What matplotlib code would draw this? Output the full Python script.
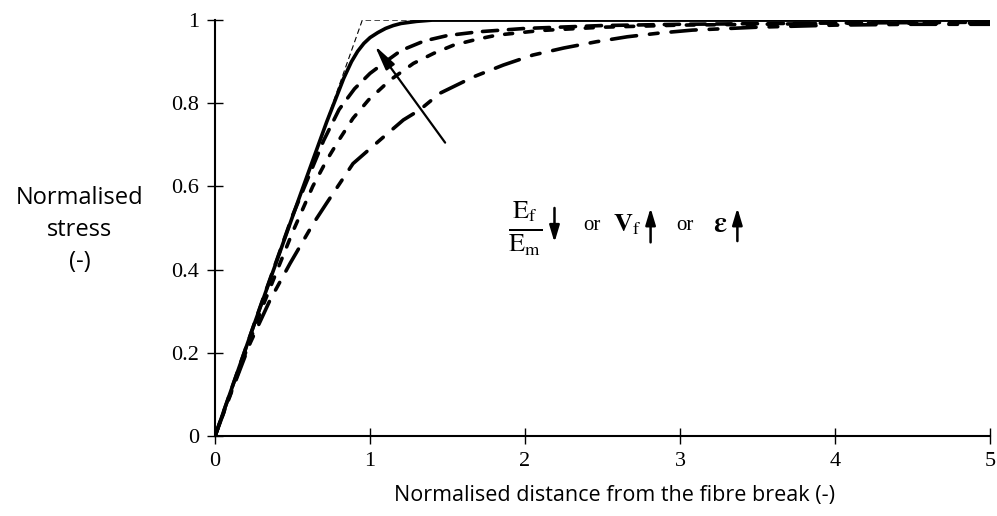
import matplotlib
matplotlib.use("Agg")
from matplotlib import pyplot as plt

# curves (normalised distance, normalised stress)
x_solid = [0, 0.25, 0.55, 0.72, 0.83, 0.88, 0.92, 0.96, 1.0, 1.05, 1.1, 1.15, 1.2, 1.3, 1.4, 2, 3, 4, 5]
y_solid = [0, 0.266, 0.58, 0.755, 0.86, 0.9, 0.925, 0.944, 0.958, 0.97, 0.98, 0.987, 0.992, 0.997, 1.0, 1.0, 1.0, 1.0, 1.0]

x_b = [0, 0.3, 0.5, 0.7, 0.8, 0.9, 1.0, 1.1, 1.2, 1.35, 1.5, 1.7, 2.0, 2.5, 3, 4, 5]
y_b = [0, 0.32, 0.53, 0.71, 0.785, 0.835, 0.872, 0.9, 0.927, 0.95, 0.963, 0.972, 0.98, 0.987, 0.99, 0.993, 0.995]

x_c = [0, 0.3, 0.5, 0.63, 0.72, 0.8, 0.89, 0.99, 1.13, 1.28, 1.41, 1.54, 1.69, 1.82, 2.1, 2.5, 3, 4, 5]
y_c = [0, 0.305, 0.49, 0.6, 0.663, 0.712, 0.764, 0.808, 0.856, 0.896, 0.92, 0.94, 0.954, 0.964, 0.975, 0.983, 0.988, 0.992, 0.993]

x_d = [0, 0.118, 0.226, 0.355, 0.484, 0.634, 0.72, 0.89, 1.065, 1.215, 1.32, 1.45, 1.67, 1.86,
       2.05, 2.25, 2.46, 2.66, 2.87, 3.08, 3.5, 4, 4.5, 5]
y_d = [0, 0.118, 0.223, 0.327, 0.415, 0.511, 0.56, 0.655, 0.712, 0.76, 0.784, 0.824, 0.864, 0.892,
       0.916, 0.933, 0.948, 0.96, 0.969, 0.976, 0.983, 0.988, 0.99, 0.99]

# bilinear reference (thin dashed)
x_ref = [0, 0.95, 1.5]
y_ref = [0, 1.0, 1.0]

x_ticks = [0, 1, 2, 3, 4, 5]
y_ticks = [0, 0.2, 0.4, 0.6, 0.8, 1]
y_ticklabels = ['0', '0.2', '0.4', '0.6', '0.8', '1']

plt.rcParams['mathtext.fontset'] = 'stix'
serif = 'Liberation Serif'
sans = 'Open Sans'

fig = plt.figure(figsize=(9.97, 5.16), dpi=100)
ax = fig.add_axes([0.2157, 0.155, 0.7773, 0.806])

ax.plot(x_ref, y_ref, color='black', lw=0.8, dashes=(5, 3))
ax.plot(x_d, y_d, color='black', lw=2.6, dashes=(7, 3.6, 2.4, 3.6), dash_capstyle='round')
ax.plot(x_c, y_c, color='black', lw=2.6, dashes=(2.2, 3.4), dash_capstyle='round')
ax.plot(x_b, y_b, color='black', lw=2.6, dashes=(4.2, 3.0), dash_capstyle='round')
ax.plot(x_solid, y_solid, color='black', lw=2.6, solid_capstyle='round', solid_joinstyle='round')

# trend arrow
ax.annotate('', xy=(1.02, 0.944), xytext=(1.495, 0.70),
            arrowprops=dict(arrowstyle='-|>,head_length=1.5,head_width=0.32', color='black', lw=1.6))

ax.set_xlim(0, 5)
ax.set_ylim(0, 1)
ax.set_xticks(x_ticks)
ax.set_yticks(y_ticks)
ax.set_yticklabels(y_ticklabels)
for side in ['top', 'right']:
    ax.spines[side].set_visible(False)
for side in ['left', 'bottom']:
    ax.spines[side].set_linewidth(1.5)
ax.tick_params(direction='inout', length=11, width=1, labelsize=16, pad=6)
for lab in ax.get_xticklabels() + ax.get_yticklabels():
    lab.set_fontfamily(serif)

# parameter annotation
ax.text(2.0, 0.5, r'$\frac{\mathrm{E_f}}{\mathrm{E_m}}$', fontsize=27, ha='center', va='center')
ax.text(2.43, 0.505, 'or', fontsize=15, family=serif, ha='center', va='center')
ax.text(2.66, 0.51, r'$\mathbf{V}_{\mathrm{f}}$', fontsize=19, ha='center', va='center')
ax.text(3.03, 0.505, 'or', fontsize=15, family=serif, ha='center', va='center')
ax.text(3.26, 0.51, r'$\mathbf{\epsilon}$', fontsize=21, ha='center', va='center')
arrow_kw = dict(arrowstyle='-|>,head_length=1.0,head_width=0.3', color='black', lw=1.8)
ax.annotate('', xy=(2.19, 0.459), xytext=(2.19, 0.555), arrowprops=arrow_kw)
ax.annotate('', xy=(2.81, 0.555), xytext=(2.81, 0.459), arrowprops=arrow_kw)
ax.annotate('', xy=(3.37, 0.555), xytext=(3.37, 0.462), arrowprops=arrow_kw)

fig.text(0.080, 0.554, 'Normalised\nstress\n(-)', family=sans, fontsize=17,
         ha='center', va='center', linespacing=1.45)
fig.text(0.616, 0.04, 'Normalised distance from the fibre break (-)', family=sans,
         fontsize=15.5, ha='center', va='center')

fig.savefig('out.png', dpi=100)
